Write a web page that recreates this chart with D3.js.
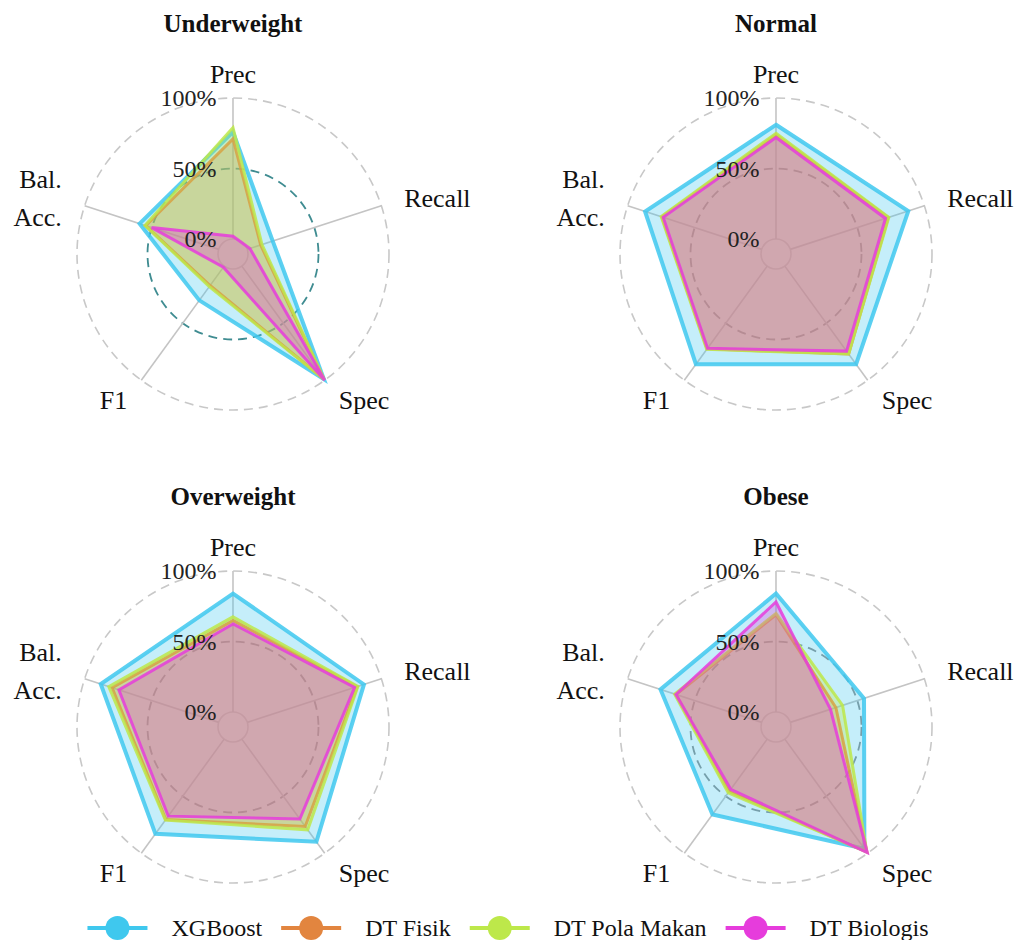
<!DOCTYPE html>
<html>
<head>
<meta charset="utf-8">
<script src="https://cdn.jsdelivr.net/npm/d3@7/dist/d3.min.js"></script>
<style>
  html, body { margin: 0; padding: 0; background: #fff; }
  text { font-family: "Liberation Serif", "Times New Roman", serif; }
</style>
</head>
<body>
<svg id="chart" width="1020" height="940"></svg>
<script>
// ---- data ----
const axes = ["Prec", "Recall", "Spec", "F1", "Bal. Acc."];
const classes = ["Underweight", "Normal", "Overweight", "Obese"];
const models = ["XGBoost", "DT Fisik", "DT Pola Makan", "DT Biologis"];
const radialTicks = [0, 50, 100];
// values per class (rows) per axis (columns), in %
const xgboost     = [[76, 19, 99, 30, 59], [81, 88, 86, 86, 87], [84, 87, 90, 83, 88], [84, 55, 96, 66, 75.5]];
const dtFisik     = [[71, 10, 99, 17, 54.5], [74, 73, 77, 72.5, 74.5], [65, 82, 76.5, 70.5, 79.5], [69, 34, 99, 46, 64]];
const dtPolaMakan = [[79, 11, 99.5, 18, 55], [75, 73.5, 77, 73, 75], [67.5, 82.5, 79.5, 71, 82], [70, 39, 99, 47, 65]];
const dtBiologis  = [[2, 2, 100, 1, 50], [72, 71, 74.5, 72, 73.5], [62.5, 80, 70, 67.5, 74.5], [78, 30, 99.5, 44, 64]];
const seriesValues = [xgboost, dtFisik, dtPolaMakan, dtBiologis];

// ---- styles ----
const colors = ["#3fc8ee", "#e2853f", "#bde84a", "#e63cdc"];
const lineWidths = [4, 3, 3, 3];
const ring50Colors = ["#3f8c91", "#8e8e8e", "#8e8e8e", "#8e8e8e"];

const svg = d3.select("#chart");
const R = 156, hole = 15;
const rScale = d3.scaleLinear().domain([0, 100]).range([hole, R]);
const angle = i => i * 2 * Math.PI / axes.length;
const centers = [[233, 254], [776, 254], [233, 727], [776, 727]];

const radial = d3.lineRadial()
  .angle((d, i) => angle(i))
  .radius(d => rScale(d))
  .curve(d3.curveLinearClosed);

classes.forEach((cls, ci) => {
  const [cx, cy] = centers[ci];
  const g = svg.append("g").attr("transform", `translate(${cx},${cy})`);

  // grid rings
  radialTicks.forEach(t => {
    g.append("circle")
      .attr("r", rScale(t))
      .attr("fill", "none")
      .attr("stroke", t === 0 ? "#d0d0d0" : (t === 50 ? ring50Colors[ci] : "#c8c8c8"))
      .attr("stroke-width", t === 50 ? 1.8 : 1.6)
      .attr("stroke-dasharray", t === 0 ? null : "9,6");
  });
  // spokes
  axes.forEach((a, i) => {
    const s = Math.sin(angle(i)), c = -Math.cos(angle(i));
    g.append("line")
      .attr("x1", rScale(0) * s).attr("y1", rScale(0) * c)
      .attr("x2", rScale(100) * s).attr("y2", rScale(100) * c)
      .attr("stroke", "#c4c4c4").attr("stroke-width", 1.6);
  });

  // traces
  models.forEach((m, mi) => {
    const vals = seriesValues[mi][ci];
    g.append("path")
      .attr("d", radial(vals))
      .attr("fill", colors[mi]).attr("fill-opacity", 0.3)
      .attr("stroke", colors[mi]).attr("stroke-opacity", 0.85)
      .attr("stroke-width", lineWidths[mi])
      .attr("stroke-linejoin", "miter");
  });

  // tick labels
  radialTicks.forEach(t => {
    g.append("text")
      .attr("x", -16.5).attr("y", -rScale(t))
      .attr("dy", "0.35em")
      .attr("text-anchor", "end")
      .attr("font-size", 24)
      .attr("fill", "#222")
      .text(t + "%");
  });

  // axis labels
  const LR = R + 24;
  axes.forEach((a, i) => {
    const s = Math.sin(angle(i)), c = -Math.cos(angle(i));
    const x = LR * s, y = LR * c;
    const anchor = s > 0.1 ? "start" : (s < -0.1 ? "end" : "middle");
    const lines = a.includes(" ") ? a.split(" ") : [a];
    const lh = 38;
    const t = g.append("text")
      .attr("text-anchor", anchor)
      .attr("font-size", 26)
      .attr("fill", "#111");
    lines.forEach((ln, li) => {
      t.append("tspan")
        .attr("x", x)
        .attr("y", y + (li - (lines.length - 1) / 2) * lh)
        .attr("dy", "0.35em")
        .text(ln);
    });
  });

  // title
  g.append("text")
    .attr("x", 0).attr("y", -222)
    .attr("text-anchor", "middle")
    .attr("font-size", 25)
    .attr("font-weight", "bold")
    .attr("fill", "#111")
    .text(cls);
});

// ---- legend ----
const legend = svg.append("g");
const ly = 928;
let xpos = 0;
const items = [];
models.forEach((m, mi) => {
  const it = legend.append("g");
  it.append("line").attr("x1", 0).attr("x2", 60).attr("y1", ly).attr("y2", ly)
    .attr("stroke", colors[mi]).attr("stroke-width", 4);
  it.append("circle").attr("cx", 30).attr("cy", ly).attr("r", 12).attr("fill", colors[mi]);
  const txt = it.append("text").attr("x", 84).attr("y", ly).attr("dy", "0.35em")
    .attr("font-size", 24).attr("fill", "#111").text(m);
  const w = 84 + txt.node().getComputedTextLength();
  items.push({ it, w });
});
const gap = 19;
const total = d3.sum(items, d => d.w) + gap * (items.length - 1);
let start = 508 - total / 2;
items.forEach(d => {
  d.it.attr("transform", `translate(${start},0)`);
  start += d.w + gap;
});
</script>
</body>
</html>
